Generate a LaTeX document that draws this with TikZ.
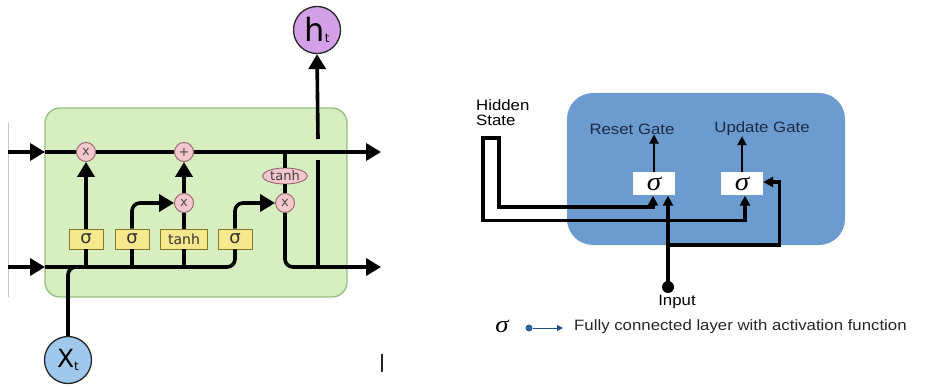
\documentclass[tikz,border=0pt]{standalone}
\usepackage{fontspec}
\setmainfont{Liberation Sans}
\newfontfamily\dvs{DejaVu Sans}
\newfontfamily\rs[FakeStretch=1.12]{Liberation Sans}
\newfontfamily\sigf[FakeStretch=1.12]{Liberation Serif}
\usetikzlibrary{arrows.meta,shapes.geometric,calc}
\definecolor{cellfill}{RGB}{214,238,192}
\definecolor{celldraw}{RGB}{150,190,128}
\definecolor{layfill}{RGB}{246,232,140}
\definecolor{laydraw}{RGB}{130,120,40}
\definecolor{pwfill}{RGB}{245,200,206}
\definecolor{pwdraw}{RGB}{150,100,110}
\definecolor{xtfill}{RGB}{160,200,236}
\definecolor{htfill}{RGB}{212,160,232}
\definecolor{grufill}{RGB}{108,155,208}
\definecolor{navy}{RGB}{28,42,68}
\definecolor{legblue}{RGB}{46,95,160}
\begin{document}
\begin{tikzpicture}[x=1pt,y=-1pt,
  cellbox/.style={draw=celldraw,fill=cellfill,line width=1.3pt,rounded corners=15pt,inner sep=0pt},
  grubox/.style={fill=grufill,rounded corners=26pt,inner sep=0pt},
  pw/.style={circle,draw=pwdraw,fill=pwfill,minimum size=19pt,inner sep=0pt,line width=0.9pt,
    font=\dvs\fontsize{13}{13}\selectfont,text=black!70},
  layer/.style={rectangle,draw=laydraw,fill=layfill,minimum height=20pt,minimum width=34pt,inner sep=0pt,
    line width=0.9pt,font=\dvs\fontsize{18}{18}\selectfont,text=black!80},
  wire/.style={line width=3.6pt},
  arr/.style={-{Triangle[length=15pt,width=17pt]}},
  sigbox/.style={rectangle,fill=white,minimum width=42pt,minimum height=23pt,inner sep=0pt,
    font=\sigf\itshape\fontsize{26}{26}\selectfont},
  gatelab/.style={inner sep=0pt,text=navy,font=\rs\fontsize{15}{15}\selectfont},
  hwire/.style={line width=3.3pt,line join=miter},
  arrS/.style={-{Triangle[length=10pt,width=10pt]}},
  arrSS/.style={{Triangle[length=10pt,width=10pt]}-{Triangle[length=10pt,width=10pt]}},
  thinarr/.style={line width=1.8pt,-{Triangle[length=9pt,width=9pt]}}
]
\useasboundingbox (0,0) rectangle (925,387);
% ---------------- LSTM cell (left) ----------------
\node[cellbox,minimum width=302pt,minimum height=189pt] (cell) at (196,202.5) {};
\draw[gray!45,line width=0.6pt] (8,123) -- (8,297);
\node[pw] (mul1) at (86,152) {x};
\node[pw] (add) at (184,152) {+};
\node[pw] (mul2) at (184,203) {x};
\node[pw] (mul3) at (285,203) {x};
\node[ellipse,draw=pwdraw,fill=pwfill,minimum width=45pt,minimum height=16pt,inner sep=0pt,line width=0.9pt,
  font=\dvs\fontsize{13}{13}\selectfont,text=black!75] (tanhE) at (285,176) {tanh};
\node[layer] (sig1) at (86,239) {σ};
\node[layer] (sig2) at (132,239) {σ};
\node[layer,minimum width=47pt,font=\dvs\fontsize{14}{14}\selectfont] (tanhB) at (184,239) {tanh};
\node[layer] (sig3) at (235,239) {σ};
\node[circle,draw=black!85,fill=htfill,line width=1.3pt,minimum size=47pt,inner sep=0pt] (ht) at (317,30)
  {\dvs\fontsize{32}{32}\selectfont h\raisebox{-1pt}{\fontsize{12}{12}\selectfont t}};
\node[circle,draw=black!85,fill=xtfill,line width=1.3pt,minimum size=47pt,inner sep=0pt] (xt) at (68,360)
  {\dvs\fontsize{25}{25}\selectfont X\raisebox{-3pt}{\fontsize{12}{12}\selectfont t}};
\coordinate (inT) at (8,152);
\coordinate (inB) at (8,267);
\coordinate (cT) at (45,152);
\coordinate (cB) at (45,267);
\coordinate (outT) at (381,152);
\coordinate (outB) at (381,267);
\coordinate (tapT) at (285,152);
\coordinate (hLow) at (318,267);
\coordinate (hMid1) at (318,160);
\coordinate (hMid2) at (318,139);
% cell state line
\draw[wire,arr] (inT) -- (cT);
\draw[wire] (cT) -- (mul1.west);
\draw[wire] (mul1.east) -- (add.west);
\draw[wire,arr] (add.east) -- (outT);
% hidden line
\draw[wire,arr] (inB) -- (cB);
\draw[wire,rounded corners=8pt] (cB) -| (sig3.south);
\draw[wire,rounded corners=8pt] (xt.north) |- (sig1.south |- cB);
% gates
\draw[wire] (sig1.south |- cB) -- (sig1.south);
\draw[wire,arr] (sig1.north) -- (mul1.south);
\draw[wire] (sig2.south |- cB) -- (sig2.south);
\draw[wire,arr,rounded corners=8pt] (sig2.north) |- (mul2.west);
\draw[wire] (tanhB.south |- cB) -- (tanhB.south);
\draw[wire] (tanhB.north) -- (mul2.south);
\draw[wire,arr] (mul2.north) -- (add.south);
\draw[wire,arr,rounded corners=8pt] (sig3.north) |- (mul3.west);
\draw[wire] (tapT) -- (tanhE.north);
\draw[wire] (tanhE.south) -- (mul3.north);
\draw[wire,arr,rounded corners=8pt] (mul3.south) |- (outB);
\draw[wire] (hLow) -- (hMid1);
\draw[wire,arr] (hMid2) -- (ht.south);
\draw[black!85,line width=2pt] (382,354) -- (382,372);
% ---------------- GRU gates (right) ----------------
\node[grubox,minimum width=278pt,minimum height=152pt] (gru) at (706,169) {};
\node[sigbox] (s1) at (654,184) {σ};
\node[sigbox] (s2) at (742,184) {σ};
\node[gatelab] (rg) at (632,129) {Reset Gate};
\node[gatelab] (ug) at (762,129) {Update Gate};
\draw[thinarr] (s1.north) -- (s1.north |- rg.south);
\draw[thinarr] (s2.north) -- (s2.north |- ug.south);
\node[anchor=north west,align=left,inner sep=0pt,font=\rs\fontsize{15}{15}\selectfont] (hs) at (476,99) {Hidden\\State};
\coordinate (hsA) at (499,138);
\coordinate (hsB) at (483,138);
\draw[hwire,arrSS] ($(s1.south)+(-1,0)$) |- ($(hsA)+(0,69)$) -- (hsA) -- (hsB) |- ($(s2.south)+(3,24.5)$) -- ($(s2.south)+(3,0)$);
\node[circle,fill=black,minimum size=12pt,inner sep=0pt] (inp) at (668,287) {};
\node[inner sep=0pt,font=\rs\fontsize{15}{15}\selectfont] (inl) at (677,302) {Input};
\coordinate (brY) at (0,245);
\draw[hwire,arrS] (inp.center) -- (inp.center |- s1.south);
\draw[hwire,arrS] (inp.center |- brY) -| ($(s2.east)+(16,-2)$) -- ($(s2.east)+(0,-2)$);
% legend
\node[inner sep=0pt,font=\sigf\itshape\fontsize{24}{24}\selectfont] (lsig) at (502,326) {σ};
\node[circle,fill=legblue,minimum size=7pt,inner sep=0pt] (ldot) at (529,328) {};
\coordinate (ltip) at (563,328);
\draw[legblue!80!black,line width=1pt,-{Triangle[length=6pt,width=6pt]}] (ldot) -- (ltip);
\node[anchor=west,inner sep=0pt,text=black!85,font=\rs\fontsize{15}{15}\selectfont] (ltext) at (574,327) {Fully connected layer with activation function};
\end{tikzpicture}
\end{document}
